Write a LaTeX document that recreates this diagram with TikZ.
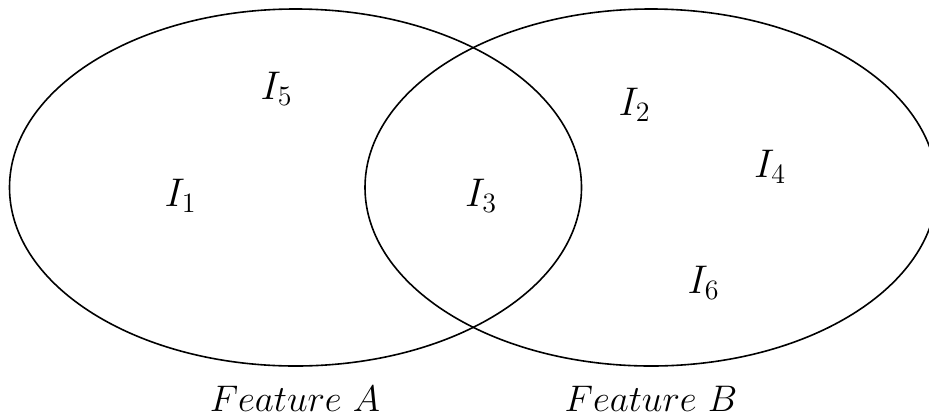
\RequirePackage{fix-cm}
\documentclass[tikz,border=0pt]{standalone}
\begin{document}
\begin{tikzpicture}[x=0.5pt,y=-0.5pt,
  venn/.style={draw=black,line width=0.8pt},
  elem/.style={anchor=base,inner sep=0pt,font=\fontsize{20}{24}\selectfont},
  caption/.style={anchor=base,inner sep=0pt,font=\fontsize{18.5}{22}\selectfont}]
\useasboundingbox (0,0) rectangle (929,418);
\clip (0,0) rectangle (929,418);
\draw[venn] (295.5,187.5) ellipse [x radius=286, y radius=178.5];
\draw[venn] (651,187.5) ellipse [x radius=286, y radius=178.5];
\node[elem] (i5) at (276.5,99) {$I_5$};
\node[elem] (i1) at (180.5,206) {$I_1$};
\node[elem] (i3) at (481,206) {$I_3$};
\node[elem] (i2) at (634.5,115) {$I_2$};
\node[elem] (i4) at (770,177) {$I_4$};
\node[elem] (i6) at (703.5,293) {$I_6$};
\node[caption] (fa) at (295,411) {$Feature\ A$};
\node[caption] (fb) at (651,411) {$Feature\ B$};
\end{tikzpicture}
\end{document}
